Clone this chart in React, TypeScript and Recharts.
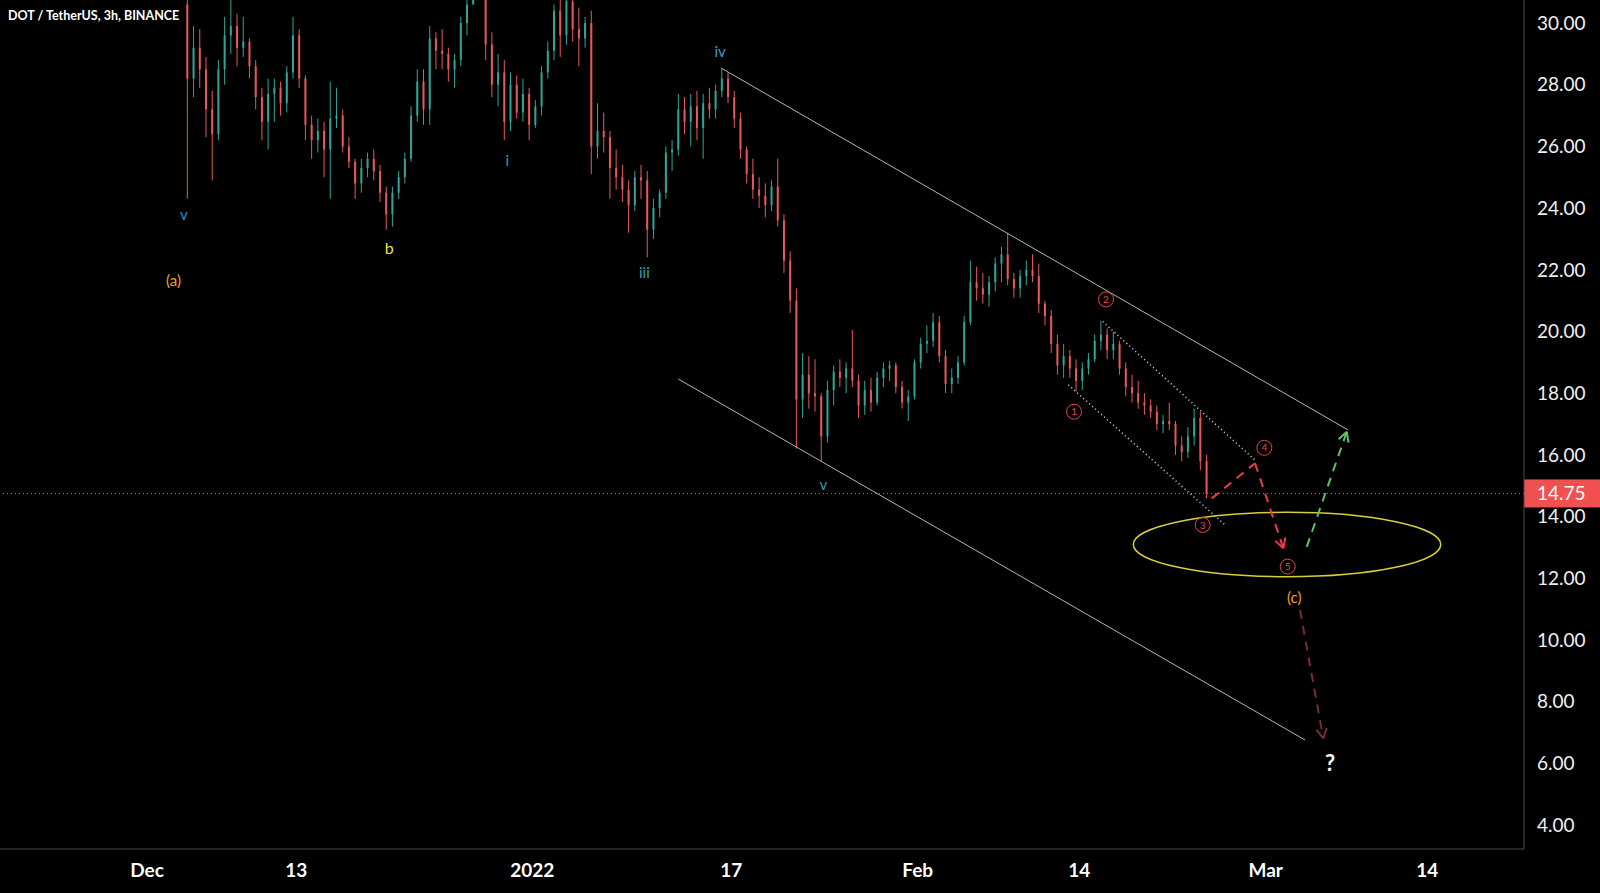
import React from "react";
import {
  Bar,
  ComposedChart,
  ReferenceArea,
  ReferenceDot,
  ReferenceLine,
  XAxis,
  YAxis,
} from "recharts";

// 12h candles, days counted from Dec 1 2021 00:00
const FIRST_DAY = 3;
const STEP = 0.5;
const FIRST_OPEN = 30.6;

const closes = [
  28.2, 29.2, 28.5, 27.2, 26.4, 28.5, 29.6, 29.9, 29.2, 29.4,
  28.6, 27.6, 26.8, 27.7, 27.9, 27.4, 28.4, 29.6, 28.2, 26.7,
  26.2, 26.5, 25.9, 26.9, 27.0, 26.0, 25.5, 24.8, 25.3, 25.6,
  25.2, 24.5, 23.8, 24.5, 25.0, 25.6, 27.0, 28.1, 27.2, 29.5,
  29.1, 29.0, 28.5, 28.8, 30.0, 30.6, 31.2, 31.0, 29.3, 28.0,
  28.4, 26.8, 28.0, 27.1, 27.7, 26.7, 27.3, 28.4, 29.1, 30.4,
  29.6, 30.7, 29.8, 29.5, 30.0, 26.0, 26.5, 26.3, 25.3, 25.0,
  24.6, 24.1, 25.0, 24.9, 23.3, 24.0, 24.5, 25.8, 25.9, 27.2,
  26.8, 27.3, 26.6, 27.4, 27.2, 27.8, 28.2, 27.6, 26.9, 25.9,
  25.1, 24.6, 24.4, 24.1, 24.7, 23.6, 22.3, 21.0, 17.8, 18.6,
  18.0, 17.9, 16.6, 18.1, 18.7, 18.5, 18.8, 18.4, 17.6, 18.1,
  17.7, 18.5, 18.8, 18.9, 18.2, 17.7, 17.9, 19.0, 19.6, 19.7,
  20.3, 19.2, 18.3, 18.5, 19.0, 20.3, 21.6, 21.4, 21.2, 21.6,
  22.2, 22.5, 21.7, 21.4, 21.8, 22.0, 21.8, 20.9, 20.5, 19.6,
  18.9, 19.2, 18.8, 18.4, 18.8, 19.1, 19.7, 19.9, 19.4, 19.6,
  18.8, 18.2, 18.0, 17.7, 17.6, 17.4, 17.0, 17.1, 17.0, 16.3,
  16.1, 16.6, 17.2, 15.8, 14.75,
];

const highs = [
  32.5, 29.9, 29.8, 28.9, 27.8, 28.8, 30.2, 30.8, 30.3, 30.2,
  29.5, 28.8, 27.9, 28.2, 28.2, 28.1, 28.6, 30.2, 29.8, 28.3,
  27.0, 26.9, 26.8, 28.1, 27.9, 27.2, 26.3, 25.6, 25.6, 25.8,
  25.9, 25.4, 24.7, 24.7, 25.2, 25.8, 27.3, 28.5, 28.5, 29.9,
  29.7, 29.8, 29.2, 29.0, 30.2, 31.0, 31.5, 31.6, 31.1, 29.7,
  29.0, 28.8, 28.4, 28.3, 28.2, 27.9, 27.5, 28.6, 29.4, 30.6,
  31.2, 31.0, 30.9, 30.5, 30.2, 30.4, 27.4, 27.1, 26.5, 25.9,
  25.4, 24.9, 25.2, 25.4, 25.2, 24.3, 24.6, 26.0, 26.2, 27.7,
  27.6, 27.7, 27.8, 27.7, 27.9, 28.0, 28.55, 28.4, 27.8, 27.1,
  26.0, 25.6, 25.0, 24.8, 24.9, 25.6, 23.8, 22.6, 21.4, 19.3,
  19.2, 19.1, 18.0, 18.4, 18.9, 19.1, 19.0, 20.05, 18.6, 18.4,
  18.5, 18.7, 19.0, 19.05, 19.0, 18.4, 18.1, 19.1, 19.8, 20.2,
  20.6, 20.5, 19.4, 18.8, 19.2, 20.5, 22.3, 22.1, 21.9, 21.8,
  22.4, 22.75, 23.2, 21.9, 22.0, 22.3, 22.5, 22.2, 21.0, 20.7,
  19.9, 19.6, 19.4, 19.1, 19.0, 19.3, 19.9, 20.35, 20.1, 20.0,
  19.7, 19.0, 18.6, 18.4, 18.0, 17.8, 17.6, 17.3, 17.7, 17.1,
  16.6, 16.9, 17.5, 17.4, 16.0,
];

const lows = [
  24.3, 27.6, 27.9, 26.3, 24.9, 26.2, 28.0, 29.0, 28.6, 28.9,
  28.2, 27.2, 26.2, 25.9, 26.8, 27.0, 27.1, 28.2, 27.9, 26.2,
  25.6, 25.8, 25.0, 24.3, 26.6, 25.8, 25.3, 24.3, 24.5, 25.0,
  24.9, 24.2, 23.3, 23.4, 24.3, 24.8, 25.5, 26.8, 26.7, 26.7,
  28.5, 28.5, 28.1, 27.9, 28.6, 29.6, 30.6, 30.8, 28.8, 27.6,
  27.3, 26.2, 26.5, 26.9, 26.8, 26.2, 26.6, 27.0, 28.2, 28.8,
  28.9, 29.3, 29.4, 28.6, 29.2, 25.1, 25.6, 25.8, 24.3, 24.6,
  24.2, 23.2, 23.9, 24.3, 22.4, 23.0, 23.7, 24.3, 25.2, 25.7,
  26.4, 26.0, 26.2, 25.6, 26.9, 26.9, 27.6, 27.4, 26.6, 25.6,
  24.8, 24.3, 24.0, 23.7, 23.9, 23.4, 21.9, 20.6, 16.2, 17.2,
  17.5, 17.4, 15.8, 16.4, 17.6, 18.2, 18.0, 18.2, 17.2, 17.3,
  17.4, 17.6, 18.2, 18.4, 18.0, 17.5, 17.1, 17.8, 18.8, 19.3,
  19.5, 19.0, 18.0, 18.0, 18.3, 18.9, 20.2, 21.0, 20.9, 20.8,
  21.3, 21.6, 21.5, 21.1, 21.1, 21.5, 21.6, 20.6, 20.2, 19.3,
  18.6, 18.5, 18.5, 18.05, 18.1, 18.6, 19.0, 19.4, 19.1, 19.1,
  18.6, 17.9, 17.7, 17.5, 17.3, 17.2, 16.8, 16.7, 16.8, 16.0,
  15.8, 15.9, 16.3, 15.5, 14.6,
];

const LAST_PRICE = 14.75;

const dayTicks = [0, 12, 31, 47, 62, 75, 90, 103];
const dayLabels = ["Dec", "13", "2022", "17", "Feb", "14", "Mar", "14"];
const priceTicks = [4, 6, 8, 10, 12, 14, 16, 18, 20, 22, 24, 26, 28, 30];

// drawing anchors in (day, price)
const channelUpper = [[46.23, 28.53], [96.62, 16.81]];
const channelLower = [[42.74, 18.46], [93.16, 6.76]];
const dottedUpper = [[76.89, 20.32], [89.14, 15.83]];
const dottedLower = [[74.12, 18.27], [86.73, 13.73]];
const redPath = [[85.66, 14.59], [89.14, 15.73], [91.42, 12.97]];
const greenPath = [[93.3, 13.02], [96.52, 16.75]];
const maroonPath = [[92.76, 10.97], [94.63, 6.81]];
const targetZone = { d1: 79.35, d2: 104.08, p1: 12.05, p2: 14.14 };

const waveLabels = [
  { text: "v", d: 2.97, p: 23.77, color: "#2f8fc4", size: 15 },
  { text: "(a)", d: 2.13, p: 21.65, color: "#f0a030", size: 15 },
  { text: "b", d: 19.49, p: 22.7, color: "#e8e23a", size: 16 },
  { text: "i", d: 28.99, p: 25.53, color: "#2aa0a4", size: 15 },
  { text: "iii", d: 40.01, p: 21.92, color: "#2aa0a4", size: 15 },
  { text: "iv", d: 46.1, p: 29.07, color: "#3aa2c8", size: 15 },
  { text: "v", d: 54.41, p: 15.02, color: "#2aa0b4", size: 15 },
  { text: "(c)", d: 92.3, p: 11.38, color: "#f0a030", size: 15 },
  { text: "?", d: 95.17, p: 6.0, color: "#ffffff", size: 22 },
];

const circledLabels = [
  { text: "1", d: 74.58, p: 17.4 },
  { text: "2", d: 77.15, p: 21.04 },
  { text: "3", d: 84.93, p: 13.73 },
  { text: "4", d: 89.89, p: 16.23 },
  { text: "5", d: 91.77, p: 12.38 },
];

const UP = "#2fa597";
const DOWN = "#e8585b";
const FONT = "Lato, 'Open Sans', sans-serif";

const candles = closes.map((c, i) => ({
  t: FIRST_DAY + STEP * i + STEP / 2,
  open: i === 0 ? FIRST_OPEN : closes[i - 1],
  high: highs[i],
  low: lows[i],
  close: c,
}));

const Candle = (props: any) => {
  const { x, y, width, height, payload } = props;
  if (!payload || x == null) return null;
  const { open, close, high, low } = payload;
  const cx = x + width / 2;
  const toY = (v: number) =>
    high === low ? y : y + ((high - v) / (high - low)) * height;
  const color = close >= open ? UP : DOWN;
  const top = toY(Math.max(open, close));
  const bot = toY(Math.min(open, close));
  return (
    <g>
      <line x1={cx} x2={cx} y1={y} y2={y + height} stroke={color} strokeWidth={1} />
      <rect x={cx - 1} y={top} width={2} height={Math.max(1, bot - top)} fill={color} />
    </g>
  );
};

const arrowLine = (color: string, dash: string, head: boolean) => (p: any) => {
  const { x1, y1, x2, y2 } = p;
  const ang = Math.atan2(y2 - y1, x2 - x1);
  const len = 11;
  const a1 = ang + Math.PI - 0.5;
  const a2 = ang + Math.PI + 0.5;
  return (
    <g>
      <line x1={x1} y1={y1} x2={x2} y2={y2} stroke={color} strokeWidth={2} strokeDasharray={dash} />
      {head && (
        <>
          <line x1={x2} y1={y2} x2={x2 + len * Math.cos(a1)} y2={y2 + len * Math.sin(a1)} stroke={color} strokeWidth={2} />
          <line x1={x2} y1={y2} x2={x2 + len * Math.cos(a2)} y2={y2 + len * Math.sin(a2)} stroke={color} strokeWidth={2} />
        </>
      )}
    </g>
  );
};

const seg = (pts: number[][], i: number) => [
  { x: pts[i][0], y: pts[i][1] },
  { x: pts[i + 1][0], y: pts[i + 1][1] },
];

const PriceTag = (props: any) => {
  const vb = props.viewBox || {};
  const x = (vb.x || 0) + (vb.width || 0);
  const y = vb.y || 0;
  return (
    <g>
      <rect x={x} y={y - 14} width={76} height={28} fill="#f0504f" />
      <text x={x + 13} y={y} dy="0.36em" fill="#ffffff" fontSize={19} fontFamily={FONT}>
        {LAST_PRICE.toFixed(2)}
      </text>
    </g>
  );
};

export default function App() {
  return (
    <div style={{ position: "relative", width: 1600, height: 893, background: "#000" }}>
      <style>{`body{margin:0;background:#000;}`}</style>
      <ComposedChart
        width={1600}
        height={893}
        data={candles}
        margin={{ top: 0, right: 0, bottom: 0, left: 0 }}
      >
        <XAxis
          dataKey="t"
          type="number"
          domain={[-11.83, 110.78]}
          allowDataOverflow
          ticks={dayTicks}
          interval={0}
          tickFormatter={(v: number) => dayLabels[dayTicks.indexOf(v)] ?? ""}
          height={44}
          tickLine={false}
          tickMargin={9}
          axisLine={{ stroke: "#4a4a4a" }}
          tick={{ fill: "#ffffff", fontSize: 19, fontWeight: 700, fontFamily: FONT }}
        />
        <YAxis
          orientation="right"
          type="number"
          width={76}
          domain={[3.225, 30.746]}
          allowDataOverflow
          ticks={priceTicks}
          interval={0}
          tickFormatter={(v: number) => v.toFixed(2)}
          tickLine={false}
          tickSize={0}
          tickMargin={13}
          axisLine={{ stroke: "#4a4a4a" }}
          tick={{ fill: "#f0f0f0", fontSize: 19, fontFamily: FONT, textAnchor: "start" }}
        />
        <ReferenceLine
          y={LAST_PRICE}
          stroke="#ef5350"
          strokeDasharray="1 3"
          label={<PriceTag />}
        />
        <Bar
          dataKey={(d: any) => [d.low, d.high]}
          barSize={4}
          shape={<Candle />}
          isAnimationActive={false}
        />
        <ReferenceLine segment={seg(channelUpper, 0)} stroke="#b4b4b4" strokeWidth={1} />
        <ReferenceLine segment={seg(channelLower, 0)} stroke="#b4b4b4" strokeWidth={1} />
        <ReferenceLine segment={seg(dottedUpper, 0)} stroke="#e0e0e0" strokeWidth={1.5} strokeDasharray="1 3" />
        <ReferenceLine segment={seg(dottedLower, 0)} stroke="#e0e0e0" strokeWidth={1.5} strokeDasharray="1 3" />
        <ReferenceArea
          x1={targetZone.d1}
          x2={targetZone.d2}
          y1={targetZone.p1}
          y2={targetZone.p2}
          shape={(p: any) => (
            <ellipse
              cx={p.x + p.width / 2}
              cy={p.y + p.height / 2}
              rx={p.width / 2}
              ry={p.height / 2}
              fill="none"
              stroke="#d8cd3e"
              strokeWidth={1.5}
            />
          )}
        />
        <ReferenceLine segment={seg(redPath, 0)} shape={arrowLine("#ee3b4a", "9 7", false)} />
        <ReferenceLine segment={seg(redPath, 1)} shape={arrowLine("#ee3b4a", "9 7", true)} />
        <ReferenceLine segment={seg(greenPath, 0)} shape={arrowLine("#5cc26a", "9 7", true)} />
        <ReferenceLine segment={seg(maroonPath, 0)} shape={arrowLine("#7a2b35", "9 7", true)} />
        {waveLabels.map((l, i) => (
          <ReferenceDot
            key={`w${i}`}
            x={l.d}
            y={l.p}
            r={0}
            shape={(p: any) => (
              <text
                x={p.cx}
                y={p.cy}
                dy="0.35em"
                textAnchor="middle"
                fill={l.color}
                fontSize={l.size}
                fontWeight={l.text === "?" ? 700 : 400}
                fontFamily={FONT}
              >
                {l.text}
              </text>
            )}
          />
        ))}
        {circledLabels.map((l, i) => (
          <ReferenceDot
            key={`c${i}`}
            x={l.d}
            y={l.p}
            r={0}
            shape={(p: any) => (
              <g>
                <circle cx={p.cx} cy={p.cy} r={7.5} fill="none" stroke="#e0464c" strokeWidth={1} />
                <text
                  x={p.cx}
                  y={p.cy}
                  dy="0.36em"
                  textAnchor="middle"
                  fill="#e0464c"
                  fontSize={10}
                  fontFamily={FONT}
                >
                  {l.text}
                </text>
              </g>
            )}
          />
        ))}
      </ComposedChart>
      <div
        style={{
          position: "absolute",
          left: 8,
          top: 8,
          color: "#ffffff",
          fontFamily: FONT,
          fontWeight: 700,
          fontSize: 12.5,
          lineHeight: "16px",
        }}
      >
        DOT / TetherUS, 3h, BINANCE
      </div>
    </div>
  );
}
